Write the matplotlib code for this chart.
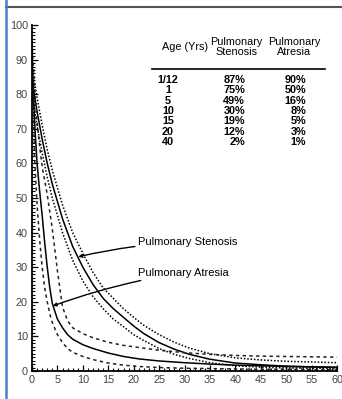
import matplotlib
matplotlib.use("Agg")
import matplotlib.pyplot as plt
from matplotlib.lines import Line2D

# ---------------- data ----------------
ps_t = [0, 1, 2, 3, 4, 5, 6, 7, 8, 9, 10, 12, 14, 16, 18, 20, 22, 25, 28, 31, 35, 40, 45, 50, 55, 60]
ps_mid = [84, 75, 67, 60, 54, 49, 44, 40, 36, 33, 30, 25, 21, 18, 15.5, 13, 10.8, 8.2, 6.3, 4.8, 3.4, 2.3, 1.8, 1.4, 1.2, 1.0]
ps_hi = [88, 79, 71, 64, 58, 53, 48, 44, 40, 37, 34, 28.5, 24, 21, 18, 15.5, 13.2, 10.5, 8.3, 6.6, 5.0, 3.8, 3.2, 2.8, 2.6, 2.4]
ps_lo = [80, 71, 63, 56, 50, 45, 40, 36, 32, 29, 26, 21.5, 18, 15, 12.8, 10.5, 8.8, 6.5, 4.8, 3.6, 2.4, 1.5, 1.1, 0.9, 0.8, 0.7]

pa_t = [0, 0.5, 1, 1.5, 2, 2.5, 3, 3.5, 4, 5, 6, 7, 8, 10, 12, 15, 18, 21, 25, 30, 35, 40, 45, 50, 55, 60]
pa_mid = [92, 72, 60, 52, 45, 37, 30, 24, 19.5, 15, 12.5, 10.5, 9.2, 7.6, 6.5, 5.2, 4.2, 3.5, 2.9, 2.4, 2.0, 1.7, 1.5, 1.3, 1.2, 1.1]
pa_hi = [95, 82, 72, 65, 59, 55, 51, 46, 41, 29, 18.5, 14.5, 12.5, 10.8, 9.6, 8.3, 7.4, 6.8, 6.0, 5.3, 4.8, 4.5, 4.3, 4.2, 4.1, 4.0]
pa_lo = [88, 62, 48, 38, 30, 24, 20, 16.5, 14, 10.5, 8.2, 6.5, 5.4, 4.2, 3.3, 2.3, 1.7, 1.3, 1.0, 0.8, 0.7, 0.6, 0.5, 0.5, 0.4, 0.4]

table_header = ["Age (Yrs)", "Pulmonary\nStenosis", "Pulmonary\nAtresia"]
table_age = ["1/12", "1", "5", "10", "15", "20", "40"]
table_ps = ["87%", "75%", "49%", "30%", "19%", "12%", "2%"]
table_pa = ["90%", "50%", "16%", "8%", "5%", "3%", "1%"]

x_ticks = list(range(0, 61, 5))
y_ticks = list(range(0, 101, 10))

# ---------------- figure ----------------
W, H = 342, 399
fig = plt.figure(figsize=(W / 100, H / 100), dpi=100)
FAM = ["Liberation Sans Narrow", "Liberation Sans", "DejaVu Sans"]

def fx(px):
    return px / W

def fy(py):
    return 1 - py / H

ax = fig.add_axes([fx(32), fy(371), fx(337) - fx(32), fy(25) - fy(371)])
ax.set_xlim(0, 60)
ax.set_ylim(0, 100)

lw = 1.1
ax.plot(ps_t, ps_mid, color="black", lw=lw)
ax.plot(ps_t, ps_hi, color="black", lw=lw, linestyle=(0, (1, 1.2)))
ax.plot(ps_t, ps_lo, color="black", lw=lw, linestyle=(0, (1, 1.2)))
ax.plot(pa_t, pa_mid, color="black", lw=lw)
ax.plot(pa_t, pa_hi, color="#222222", lw=lw, linestyle=(0, (2.2, 2.2)))
ax.plot(pa_t, pa_lo, color="#222222", lw=lw, linestyle=(0, (2.2, 2.2)))

for s in ["top", "right"]:
    ax.spines[s].set_visible(False)
for s in ["left", "bottom"]:
    ax.spines[s].set_linewidth(1.3)

ax.set_xticks(x_ticks)
ax.set_yticks(y_ticks)
ax.set_xticks(range(0, 61), minor=True)
ax.set_yticks(range(0, 101), minor=True)
ax.tick_params(axis="both", which="major", direction="in", length=4, width=0.9,
               labelsize=7.8, labelcolor="#444444", pad=3)
ax.tick_params(axis="both", which="minor", direction="in", length=2.2, width=0.8)
for lab in ax.get_xticklabels() + ax.get_yticklabels():
    lab.set_family(FAM)

# annotations
ax.annotate("Pulmonary Stenosis", xy=(9.1, 33.0), xytext=(20.8, 37.2),
            fontsize=8, family=FAM, va="center", ha="left",
            arrowprops=dict(arrowstyle="-|>", mutation_scale=5, lw=1.0,
                            color="black", shrinkA=0, shrinkB=0,
                            connectionstyle="arc3,rad=0.05"))
ax.annotate("Pulmonary Atresia", xy=(4.1, 18.8), xytext=(20.8, 28.4),
            fontsize=8, family=FAM, va="center", ha="left",
            arrowprops=dict(arrowstyle="-|>", mutation_scale=5, lw=1.0,
                            color="black", shrinkA=0, shrinkB=0,
                            connectionstyle="arc3,rad=0.05"))

# table
fig.text(fx(185), fy(47), table_header[0], fontsize=7.8, family=FAM, ha="center", va="center")
fig.text(fx(236), fy(47), table_header[1], fontsize=7.8, family=FAM, ha="center", va="center",
         linespacing=1.05)
fig.text(fx(294), fy(47), table_header[2], fontsize=7.8, family=FAM, ha="center", va="center",
         linespacing=1.05)
fig.add_artist(Line2D([fx(152), fx(325)], [fy(69), fy(69)], color="black", lw=1.2,
                      transform=fig.transFigure))
row_y0, row_dy = 80, 10.35
for i in range(len(table_age)):
    yy = fy(row_y0 + i * row_dy)
    fig.text(fx(168), yy, table_age[i], fontsize=7.8, family=FAM, weight="bold",
             ha="center", va="center")
    fig.text(fx(245), yy, table_ps[i], fontsize=7.8, family=FAM, weight="bold",
             ha="right", va="center")
    fig.text(fx(306), yy, table_pa[i], fontsize=7.8, family=FAM, weight="bold",
             ha="right", va="center")

# frame lines of the screenshot
fig.add_artist(Line2D([fx(6), fx(342)], [fy(7), fy(7)], color="#555555", lw=1.5,
                      transform=fig.transFigure))
fig.add_artist(Line2D([fx(6), fx(6)], [fy(0), fy(399)], color="#4a7fd0", lw=1.8,
                      transform=fig.transFigure))

fig.savefig("out.png", dpi=100)
